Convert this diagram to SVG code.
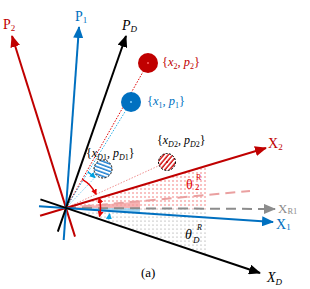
<svg xmlns="http://www.w3.org/2000/svg" width="310" height="289" viewBox="0 0 310 289" font-family="'Liberation Serif', 'Times New Roman', serif">
<style>
text{font-family:'Liberation Serif','Times New Roman',serif;}
.ax{fill:none;stroke-width:2;}
.red{stroke:#c00000;}
.blue{stroke:#0070c0;}
.blk{stroke:#000;}
.dot{fill:none;stroke-width:1;stroke-dasharray:1.5 1.5;}
</style>
<defs>
<marker id="ar" markerWidth="12" markerHeight="10" refX="11" refY="5" orient="auto" markerUnits="userSpaceOnUse"><path d="M0,0 L12,5 L0,10 z" fill="#c00000"/></marker>
<marker id="ab" markerWidth="12" markerHeight="10" refX="11" refY="5" orient="auto" markerUnits="userSpaceOnUse"><path d="M0,0 L12,5 L0,10 z" fill="#0070c0"/></marker>
<marker id="ak" markerWidth="12" markerHeight="10" refX="11" refY="5" orient="auto" markerUnits="userSpaceOnUse"><path d="M0,0 L12,5 L0,10 z" fill="#000"/></marker>
<marker id="ag" markerWidth="12" markerHeight="10" refX="11" refY="5" orient="auto" markerUnits="userSpaceOnUse"><path d="M0,0 L12,5 L0,10 z" fill="#8c8c8c"/></marker>
<marker id="ars" markerWidth="6" markerHeight="6" refX="5" refY="3" orient="auto-start-reverse" markerUnits="userSpaceOnUse"><path d="M0,0 L6,3 L0,6 z" fill="#e00000"/></marker>
<marker id="abs" markerWidth="6" markerHeight="6" refX="5" refY="3" orient="auto-start-reverse" markerUnits="userSpaceOnUse"><path d="M0,0 L6,3 L0,6 z" fill="#00a0e0"/></marker>
<pattern id="rdots" width="4" height="4" patternUnits="userSpaceOnUse"><circle cx="1" cy="1" r="0.7" fill="#ee5555"/></pattern>
<pattern id="gdots" width="4" height="4" patternUnits="userSpaceOnUse"><circle cx="1" cy="1" r="0.6" fill="#888"/></pattern>
<pattern id="bhatch" width="3.5" height="3.5" patternUnits="userSpaceOnUse" patternTransform="rotate(20)"><rect width="3.5" height="3.5" fill="#fff"/><line x1="0" y1="1" x2="3.5" y2="1" stroke="#1f7fd0" stroke-width="1.5"/></pattern>
<pattern id="rhatch" width="3.5" height="3.5" patternUnits="userSpaceOnUse" patternTransform="rotate(-50)"><rect width="3.5" height="3.5" fill="#fff"/><line x1="0" y1="1" x2="3.5" y2="1" stroke="#d00000" stroke-width="1.4"/></pattern>
</defs>

<g id="regions">
<polygon points="66,208 208,165.4 208,208.7" fill="url(#rdots)"/>
<polygon points="66,208 208,208.7 208,255.6" fill="url(#gdots)"/>
<polygon points="66,208 140,201.2 140,208.35" fill="#f39a9a" opacity="0.75"/>
<polygon points="66,208 140,208.35 140,213" fill="#8ccdef" opacity="0.8"/>
</g>

<g id="connectors">
<line x1="66" y1="208" x2="148" y2="63" class="dot" stroke="#e00000"/>
<line x1="66" y1="208" x2="131" y2="102" class="dot" stroke="#30b0e8"/>
<line x1="66" y1="208" x2="103" y2="169" class="dot" stroke="#80ccef"/>
<line x1="66" y1="208" x2="167" y2="162" class="dot" stroke="#f09090"/>
<line x1="66" y1="208" x2="250" y2="191" stroke="#eaa0a0" stroke-width="2" stroke-dasharray="10 6" fill="none"/>
<line x1="66" y1="208" x2="275" y2="209" stroke="#8c8c8c" stroke-width="2" stroke-dasharray="10 6" marker-end="url(#ag)" fill="none"/>
<line x1="75" y1="236.6" x2="12" y2="36" class="ax red" marker-end="url(#ar)"/>
<line x1="63.7" y1="240" x2="79" y2="27" class="ax blue" marker-end="url(#ab)"/>
<line x1="57.8" y1="231.6" x2="126" y2="36" class="ax blk" marker-end="url(#ak)"/>
<line x1="40.1" y1="215.8" x2="266" y2="148" class="ax red" marker-end="url(#ar)"/>
<line x1="39" y1="206.2" x2="273" y2="222" class="ax blue" marker-end="url(#ab)"/>
<line x1="40.4" y1="199.4" x2="260" y2="273" class="ax blk" marker-end="url(#ak)"/>
<path d="M82.25,179.28 A33,33 0 0 1 96.03,194.31" fill="none" stroke="#e00000" stroke-width="1.5" marker-end="url(#ars)"/>
<path d="M87.9,172.2 A42,42 0 0 1 94.9,177.5" fill="none" stroke="#00a0e0" stroke-width="1.5" marker-end="url(#abs)"/>
<path d="M99.5,216.35 A34.5,34.5 0 0 0 99.05,198.1" fill="none" stroke="#e00000" stroke-width="1.5" marker-start="url(#ars)" marker-end="url(#ars)"/>
<path d="M108.5,219.4 A44,44 0 0 0 109.6,214.1" fill="none" stroke="#00a0e0" stroke-width="1.5" marker-end="url(#abs)"/>
</g>

<g id="node-x2p2">
<circle cx="148" cy="63" r="10" fill="#c00000"/>
<circle cx="148" cy="63" r="1" fill="#ff6060"/>
<text x="162" y="66" font-size="12.5" fill="#c00000">{<tspan font-style="italic">x</tspan><tspan font-size="8" dy="3">2</tspan><tspan dy="-3">, </tspan><tspan font-style="italic">p</tspan><tspan font-size="8" dy="3">2</tspan><tspan dy="-3">}</tspan></text>
</g>

<g id="node-x1p1">
<circle cx="131" cy="102" r="10" fill="#0070c0"/>
<circle cx="131" cy="102" r="1" fill="#80d0ff"/>
<text x="147" y="105" font-size="12.5" fill="#0070c0">{<tspan font-style="italic">x</tspan><tspan font-size="8" dy="3">1</tspan><tspan dy="-3">, </tspan><tspan font-style="italic">p</tspan><tspan font-size="8" dy="3">1</tspan><tspan dy="-3">}</tspan></text>
</g>

<g id="node-xD1">
<circle cx="103" cy="169" r="9" fill="url(#bhatch)" stroke="#000" stroke-width="1" stroke-dasharray="2 1.5"/>
<text x="86" y="157" font-size="12" fill="#000">{<tspan font-style="italic">x</tspan><tspan font-size="8" dy="3"><tspan font-style="italic">D</tspan>1</tspan><tspan dy="-3">, </tspan><tspan font-style="italic">p</tspan><tspan font-size="8" dy="3"><tspan font-style="italic">D</tspan>1</tspan><tspan dy="-3">}</tspan></text>
</g>

<g id="node-xD2">
<circle cx="167" cy="162" r="8.5" fill="url(#rhatch)" stroke="#000" stroke-width="1" stroke-dasharray="2 1.5"/>
<circle cx="167" cy="162" r="1" fill="#c00000"/>
<text x="157" y="144" font-size="12" fill="#000">{<tspan font-style="italic">x</tspan><tspan font-size="8" dy="3"><tspan font-style="italic">D</tspan>2</tspan><tspan dy="-3">, </tspan><tspan font-style="italic">p</tspan><tspan font-size="8" dy="3"><tspan font-style="italic">D</tspan>2</tspan><tspan dy="-3">}</tspan></text>
</g>

<g id="labels">
<text x="3" y="29" font-size="14" fill="#c00000">P<tspan font-size="9" dy="2">2</tspan></text>
<text x="75" y="21" font-size="14" fill="#0070c0">P<tspan font-size="9" dy="2">1</tspan></text>
<text x="122" y="30" font-size="14" font-style="italic" fill="#000">P<tspan font-size="9" dy="2">D</tspan></text>
<text x="268" y="148" font-size="14" fill="#c00000">X<tspan font-size="9" dy="2">2</tspan></text>
<text x="278" y="213" font-size="13" fill="#8c8c8c">X<tspan font-size="8.5" dy="1">R1</tspan></text>
<text x="276" y="229" font-size="14" fill="#0070c0">X<tspan font-size="9" dy="1">1</tspan></text>
<text x="267" y="282" font-size="14" font-style="italic" fill="#000">X<tspan font-size="9" dy="3">D</tspan></text>
<text x="186" y="189" font-size="14" fill="#e00000">θ</text>
<text x="195" y="190" font-size="9" fill="#e00000">2</text>
<text x="196" y="180" font-size="8" fill="#e00000">R</text>
<text x="185" y="239" font-size="14" font-style="italic" fill="#000">θ</text>
<text x="193" y="243" font-size="9" font-style="italic" fill="#000">D</text>
<text x="197" y="230" font-size="8" font-style="italic" fill="#000">R</text>
<text x="141" y="277" font-size="13" fill="#000">(a)</text>
</g>
</svg>
